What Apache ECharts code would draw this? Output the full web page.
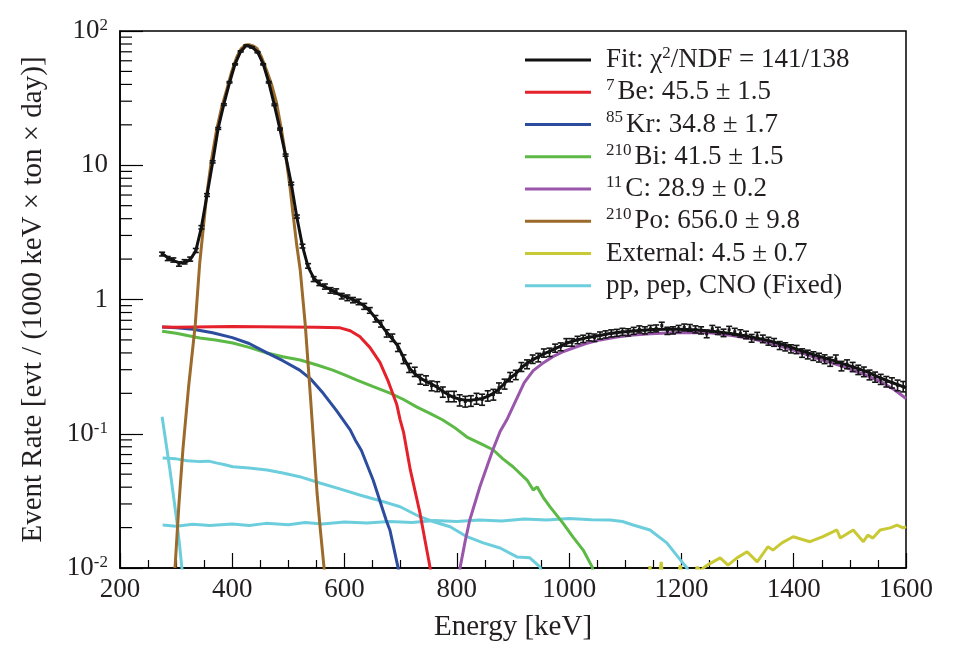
<!DOCTYPE html>
<html><head><meta charset="utf-8">
<script src="https://cdn.jsdelivr.net/npm/echarts@6/dist/echarts.min.js"></script>
<style>html,body{margin:0;padding:0;background:#fff}#c{width:954px;height:662px}</style>
</head><body><div id="c"></div>
<script>
// ---------- data ----------
const xTicks = [200, 400, 600, 800, 1000, 1200, 1400, 1600];
const yTickLabels = {'-2': '10{sup|-2}', '-1': '10{sup|-1}', '0': '1', '1': '10', '2': '10{sup|2}'};

const legendNames = ['Fit', '7Be', '85Kr', '210Bi', '11C', '210Po', 'External', 'pp, pep, CNO (Fixed)'];
const legendLabels = [
  'Fit: \u03c7{chi|2}/NDF = 141/138',
  '{sup|7}Be: 45.5 \u00b1 1.5',
  '{sup|85}Kr: 34.8 \u00b1 1.7',
  '{sup|210}Bi: 41.5 \u00b1 1.5',
  '{sup|11}C: 28.9 \u00b1 0.2',
  '{sup|210}Po: 656.0 \u00b1 9.8',
  'External: 4.5 \u00b1 0.7',
  'pp, pep, CNO (Fixed)'
];

const dataE = [275,285,295,305,315,325,335,345,355,365,
  375,385,395,405,415,425,435,445,455,465,
  475,485,495,505,515,525,535,545,555,565,
  575,585,595,605,615,625,635,645,655,665,
  675,685,695,705,715,725,735,745,755,765,
  775,785,795,805,815,825,835,845,855,865,
  875,885,895,905,915,925,935,945,955,965,
  975,985,995,1005,1015,1025,1035,1045,1055,1065,
  1075,1085,1095,1105,1115,1125,1135,1145,1155,1165,
  1175,1185,1195,1205,1215,1225,1235,1245,1255,1265,
  1275,1285,1295,1305,1315,1325,1335,1345,1355,1365,
  1375,1385,1395,1405,1415,1425,1435,1445,1455,1465,
  1475,1485,1495,1505,1515,1525,1535,1545,1555,1565,
  1575,1585,1595];
const dataV = [2.18,2.02,1.97,1.84,1.91,2.0,2.32,3.45,6.0,10.6,
  18.8,28.3,41.5,56.5,70.5,78,75.5,69.5,56.5,41.5,
  28.2,18.6,11.9,7.3,4.15,2.5,1.78,1.42,1.33,1.25,
  1.17,1.15,1.06,1.03,0.99,0.96,0.89,0.83,0.72,0.66,
  0.56,0.52,0.44,0.36,0.31,0.29,0.255,0.25,0.228,0.225,
  0.205,0.19,0.19,0.178,0.174,0.176,0.183,0.18,0.192,0.196,
  0.22,0.235,0.265,0.275,0.315,0.33,0.36,0.37,0.4,0.405,
  0.435,0.445,0.48,0.48,0.5,0.51,0.525,0.52,0.54,0.55,
  0.56,0.565,0.575,0.57,0.585,0.6,0.59,0.605,0.61,0.64,
  0.585,0.59,0.605,0.62,0.615,0.6,0.59,0.555,0.605,0.585,
  0.565,0.595,0.575,0.56,0.545,0.515,0.535,0.51,0.49,0.48,
  0.455,0.445,0.43,0.425,0.4,0.39,0.38,0.37,0.36,0.345,
  0.36,0.32,0.33,0.315,0.3,0.29,0.275,0.265,0.255,0.245,
  0.24,0.23,0.225];
const dataErr = [0.07,0.07,0.07,0.07,0.07,0.07,0.08,0.1,0.14,0.2,
  0.3,0.4,0.5,0.6,0.7,0.75,0.75,0.7,0.6,0.5,
  0.4,0.3,0.22,0.16,0.11,0.08,0.07,0.06,0.06,0.055,
  0.055,0.05,0.05,0.05,0.045,0.045,0.045,0.04,0.04,0.037,
  0.035,0.033,0.03,0.027,0.024,0.023,0.021,0.02,0.019,0.019,
  0.018,0.017,0.017,0.017,0.016,0.016,0.017,0.017,0.017,0.018,
  0.019,0.02,0.021,0.022,0.024,0.025,0.026,0.027,0.028,0.029,
  0.03,0.03,0.031,0.031,0.032,0.032,0.033,0.033,0.033,0.034,
  0.034,0.034,0.035,0.035,0.035,0.036,0.036,0.036,0.036,0.037,
  0.036,0.036,0.036,0.036,0.036,0.036,0.036,0.036,0.036,0.036,
  0.036,0.036,0.035,0.035,0.035,0.034,0.034,0.033,0.033,0.032,
  0.031,0.031,0.03,0.03,0.029,0.029,0.028,0.028,0.027,0.027,
  0.026,0.026,0.025,0.025,0.024,0.024,0.023,0.023,0.022,0.022,
  0.021,0.021,0.02];

const fitE = [275,285,295,305,315,325,335,345,355,365,375,385,395,405,415,425,435,445,455,465,475,485,495,505,515,525,535,545,555,565,575,585,595,605,615,625,635,645,655,665,675,685,695,705,715,725,735,745,755,765,775,785,795,805,815,825,835,845,855,865,875,885,895,905,915,925,935,945,955,965,975,985,995,1010,1030,1050,1070,1090,1110,1130,1150,1170,1190,1210,1230,1250,1270,1290,1310,1330,1350,1370,1390,1410,1430,1450,1470,1490,1510,1530,1550,1570,1590,1600];
const fitV = [2.2,2.05,1.95,1.88,1.88,1.98,2.3,3.45,6.0,10.5,19.0,28.5,41,57,70.5,78,76,70,57,41.5,28,18.5,11.8,7.3,4.1,2.5,1.75,1.45,1.3,1.24,1.19,1.12,1.07,1.04,1.0,0.95,0.9,0.82,0.73,0.65,0.57,0.51,0.45,0.37,0.31,0.28,0.26,0.245,0.235,0.222,0.207,0.195,0.186,0.181,0.178,0.178,0.18,0.183,0.19,0.2,0.215,0.238,0.26,0.28,0.31,0.335,0.355,0.375,0.393,0.41,0.43,0.45,0.472,0.495,0.518,0.535,0.555,0.57,0.58,0.59,0.597,0.6,0.6,0.598,0.592,0.583,0.57,0.555,0.54,0.52,0.5,0.475,0.45,0.42,0.395,0.372,0.352,0.33,0.31,0.29,0.265,0.245,0.228,0.22];

const be7E = [275,300,400,500,550,592,610,627,645,663,677,693,699,705,717,734,752,758];
const be7V = [0.625,0.62,0.63,0.625,0.622,0.615,0.585,0.53,0.44,0.34,0.25,0.165,0.127,0.103,0.054,0.026,0.0102,0.007];

const kr85E = [275,300,330,365,400,430,462,490,520,540,562,585,610,619,630,651,674,681,695,702];
const kr85V = [0.625,0.615,0.6,0.565,0.52,0.47,0.4,0.35,0.298,0.255,0.2,0.15,0.107,0.09,0.075,0.045,0.0228,0.019,0.0102,0.007];

const bi210E = [275,300,342,370,401,430,462,490,521,551,579,600,622,650,681,705,729,752,775,795,818,847,865,882,900,925,936,943,955,966,989,1007,1025,1041,1048];
const bi210V = [0.58,0.56,0.517,0.5,0.474,0.44,0.399,0.375,0.354,0.325,0.298,0.275,0.251,0.225,0.201,0.18,0.158,0.142,0.1266,0.112,0.0945,0.0825,0.0757,0.065,0.0568,0.0452,0.0381,0.0402,0.033,0.0285,0.0216,0.017,0.0136,0.0102,0.007];

const c11E = [800,806,815,823,841,864,877,889,906,920,936,955,971,990,1007,1030,1055,1085,1114,1145,1175,1210,1250,1290,1330,1370,1410,1450,1490,1530,1560,1580,1600];
const c11V = [0.007,0.0102,0.016,0.0228,0.0403,0.0757,0.104,0.127,0.18,0.24,0.295,0.34,0.375,0.41,0.435,0.47,0.5,0.525,0.544,0.556,0.563,0.568,0.565,0.54,0.505,0.46,0.405,0.355,0.315,0.272,0.238,0.212,0.183];

const po210E = [298,305,312,322,334,342,354,363,372,381,390,399,408,416,423,430,437,444,452,461,470,479,488,497,503,508,515,521,530,540,551,557,563,567];
const po210V = [0.01,0.03,0.0757,0.22,0.646,1.87,5.8,11,18.3,27,36.4,50,64,74,78.5,79,77.5,74,64,51,40,29,18,10.4,6.8,4.4,2.5,1.66,0.646,0.17,0.0362,0.019,0.0105,0.007];

const extE = [1138,1144,1150,1158,1164,1170,1190,1198,1205,1222,1228,1234,1240,1246,1258,1269,1283,1299,1317,1335,1354,1363,1379,1399,1429,1452,1477,1483,1506,1524,1532,1541,1554,1572,1584,1595,1600];
const extV = [0.006,0.0103,0.006,0.007,0.0111,0.006,0.007,0.0105,0.007,0.008,0.0102,0.0095,0.0101,0.0105,0.0112,0.0119,0.0105,0.0119,0.0132,0.0111,0.0144,0.0136,0.0154,0.0171,0.0157,0.0171,0.0192,0.0167,0.0192,0.0157,0.0176,0.0167,0.0192,0.0199,0.0209,0.0199,0.0203];

const cno1E = [275,282,289,295,301,306,310,315];
const cno1V = [0.134,0.085,0.0537,0.035,0.0228,0.015,0.0102,0.007];

const cno2E = [276,300,320,343,358,373,385,401,430,462,490,520,556,590,627,660,699,734,760,788,818,847,877,907,930,948,955];
const cno2V = [0.066,0.065,0.063,0.062,0.0625,0.0604,0.059,0.0568,0.0555,0.0537,0.051,0.0479,0.043,0.039,0.035,0.032,0.0286,0.0241,0.022,0.0203,0.0171,0.0154,0.0141,0.0121,0.0119,0.0102,0.008];

const cno3E = [276,300,330,360,400,430,460,500,530,560,600,640,680,720,760,800,840,880,920,960,1000,1040,1073,1095,1114,1144,1174,1198,1210,1220];
const cno3V = [0.0209,0.0205,0.0212,0.0207,0.0213,0.0207,0.0215,0.021,0.0218,0.0213,0.022,0.0216,0.0222,0.0218,0.0226,0.0222,0.0228,0.0224,0.0232,0.0228,0.0234,0.0229,0.0228,0.0222,0.0209,0.0192,0.0154,0.0115,0.0100,0.007];

// ---------- chart ----------
const FONT = 'Liberation Serif';
const TXT = '#231f20';
const pair = (E, V) => E.map((e, i) => [e, V[i]]);

const minorY = [];
for (let k = -2; k <= 1; k++) for (let d = 2; d <= 9; d++) minorY.push([200, +(d * Math.pow(10, k)).toPrecision(3)]);

function lineSeries(name, E, V, color, z) {
  return {name, type: 'line', data: pair(E, V), showSymbol: false, symbol: 'none',
    lineStyle: {color, width: 3}, itemStyle: {color}, clip: true, z: z || 2, silent: true, animation: false};
}

function renderErr(params, api) {
  const x = api.value(0), y = api.value(1), e = api.value(2);
  const c = api.coord([x, y]);
  const lo = api.coord([x, y - e]);
  const hi = api.coord([x, y + e]);
  const st = {stroke: '#151515', lineWidth: 1.6};
  return {type: 'group', children: [
    {type: 'line', shape: {x1: c[0], y1: lo[1], x2: c[0], y2: hi[1]}, style: st},
    {type: 'line', shape: {x1: c[0] - 3, y1: lo[1], x2: c[0] + 3, y2: lo[1]}, style: st},
    {type: 'line', shape: {x1: c[0] - 3, y1: hi[1], x2: c[0] + 3, y2: hi[1]}, style: st},
    {type: 'rect', shape: {x: c[0] - 1.5, y: c[1] - 1.5, width: 3, height: 3}, style: {fill: '#151515'}}
  ]};
}
function renderMinor(params, api) {
  const p = api.coord([api.value(0), api.value(1)]);
  return {type: 'line', shape: {x1: p[0], y1: p[1], x2: p[0] + 12, y2: p[1]}, style: {stroke: '#000', lineWidth: 1.2}};
}

const chart = echarts.init(document.getElementById('c'), null, {renderer: 'canvas'});
chart.setOption({
  animation: false,
  backgroundColor: '#fff',
  grid: {left: 120, right: 48, top: 31, bottom: 94, show: true, borderColor: '#000', borderWidth: 1.5, backgroundColor: 'transparent'},
  legend: {
    left: 525, top: 45, orient: 'vertical', icon: 'rect', itemWidth: 66, itemHeight: 3, itemGap: 2.25,
    selectedMode: false, padding: 0,
    data: legendNames,
    formatter: name => legendLabels[legendNames.indexOf(name)],
    textStyle: {fontFamily: FONT, fontSize: 27, lineHeight: 30, color: TXT, padding: [0, 0, 0, 10],
      rich: {
        sup: {fontFamily: FONT, fontSize: 17, color: TXT, verticalAlign: 'top', padding: [0, 3, 0, 0]},
        chi: {fontFamily: FONT, fontSize: 17, color: TXT, verticalAlign: 'top'}
      }}
  },
  xAxis: {
    type: 'value', min: xTicks[0], max: xTicks[xTicks.length - 1], interval: 200,
    axisLine: {show: true, onZero: false, lineStyle: {color: '#000', width: 1.5}},
    axisTick: {show: true, inside: true, length: 15, lineStyle: {color: '#000', width: 1.2}},
    minorTick: {show: true, splitNumber: 4, length: 8, lineStyle: {color: '#000', width: 1.2}},
    splitLine: {show: false},
    axisLabel: {fontFamily: FONT, fontSize: 27, color: TXT, margin: 8, formatter: v => String(v)},
    name: 'Energy [keV]', nameLocation: 'middle', nameGap: 45,
    nameTextStyle: {fontFamily: FONT, fontSize: 29, color: TXT}
  },
  yAxis: {
    type: 'log', logBase: 10, min: 0.01, max: 100,
    axisLine: {show: true, onZero: false, lineStyle: {color: '#000', width: 1.5}},
    axisTick: {show: true, inside: true, length: 23, lineStyle: {color: '#000', width: 1.2}},
    splitLine: {show: false},
    axisLabel: {fontFamily: FONT, fontSize: 27, color: TXT, margin: 12, lineHeight: 28,
      formatter: v => yTickLabels[String(Math.round(Math.log10(v)))] || '',
      rich: {sup: {fontFamily: FONT, fontSize: 17, color: TXT, verticalAlign: 'top'}}},
    name: 'Event Rate [evt / (1000 keV \u00d7 ton \u00d7 day)]', nameLocation: 'middle', nameGap: 72,
    nameTextStyle: {fontFamily: FONT, fontSize: 29, color: TXT}
  },
  series: [
    lineSeries('pp, pep, CNO (Fixed)', cno1E, cno1V, '#6ccedc'),
    lineSeries('pp, pep, CNO (Fixed)', cno2E, cno2V, '#6ccedc'),
    lineSeries('pp, pep, CNO (Fixed)', cno3E, cno3V, '#6ccedc'),
    lineSeries('External', extE, extV, '#c8c934'),
    lineSeries('210Bi', bi210E, bi210V, '#5cb946'),
    lineSeries('85Kr', kr85E, kr85V, '#2c4d9e'),
    lineSeries('7Be', be7E, be7V, '#e5212b'),
    lineSeries('11C', c11E, c11V, '#9a56ab'),
    lineSeries('210Po', po210E, po210V, '#9c6a2b'),
    lineSeries('Fit', fitE, fitV, '#111', 4),
    {name: 'data', type: 'custom', renderItem: renderErr, data: dataE.map((e, i) => [e, dataV[i], dataErr[i]]),
      encode: {x: 0, y: 1}, z: 5, clip: true, silent: true},
    {name: 'minorTicks', type: 'custom', renderItem: renderMinor, data: minorY, encode: {x: 0, y: 1}, z: 6, silent: true, clip: false}
  ]
});
</script>
</body></html>
